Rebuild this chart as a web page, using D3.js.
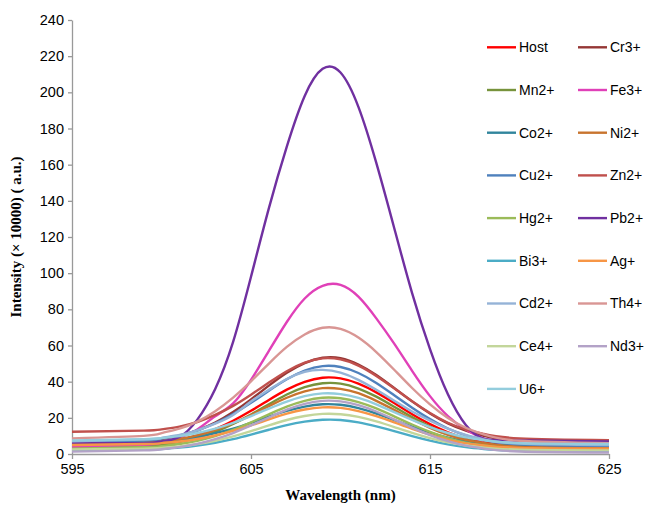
<!DOCTYPE html>
<html>
<head>
<meta charset="utf-8">
<script src="https://cdn.jsdelivr.net/npm/d3@7"></script>
<style>
  body { margin: 0; background: #fff; }
  svg { display: block; }
</style>
</head>
<body>
<svg id="chart" width="646" height="505"></svg>
<script>
// wavelength samples (nm)
const wavelengths = [595, 599, 600, 601, 602, 603, 604, 605, 606, 607, 608, 609, 610, 611, 612, 613, 614, 615, 616, 617, 618, 620, 625];

// intensities (x 10000 a.u.)
const host = [4.5, 5.4, 6.3, 7.8, 10.3, 13.8, 18.4, 23.9, 29.9, 35.6, 39.9, 42.2, 41.8, 38.9, 34.1, 28.2, 22.0, 16.5, 12.0, 8.7, 6.5, 4.3, 3.5];
const cr3 = [6.0, 7.1, 8.2, 10.1, 13.1, 17.4, 23.2, 30.2, 37.8, 44.9, 50.3, 53.2, 53.0, 49.5, 43.7, 36.5, 29.1, 22.4, 16.9, 12.9, 10.1, 7.5, 6.5];
const mn2 = [3.5, 4.4, 5.2, 6.6, 8.9, 12.2, 16.6, 21.8, 27.5, 32.9, 37.0, 39.1, 38.9, 36.2, 31.7, 26.1, 20.4, 15.2, 11.0, 7.9, 5.8, 3.7, 3.0];
const fe3 = [4.0, 5.1, 6.4, 9.0, 13.6, 20.9, 28.0, 41.0, 57.0, 73.0, 86.0, 93.0, 93.5, 87.0, 75.0, 61.0, 46.0, 32.0, 21.0, 13.5, 8.5, 4.9, 4.0];
const co2 = [6.0, 6.5, 7.1, 8.0, 9.4, 11.5, 14.0, 17.2, 20.6, 23.8, 26.2, 27.5, 27.2, 25.4, 22.4, 18.8, 15.1, 11.8, 9.0, 7.0, 5.7, 4.5, 4.0];
const ni2 = [5.5, 6.3, 7.0, 8.3, 10.3, 13.2, 17.0, 21.5, 26.5, 31.1, 34.6, 36.4, 36.0, 33.6, 29.4, 24.4, 19.2, 14.5, 10.6, 7.8, 6.0, 4.1, 3.5];
const cu2 = [6.5, 7.5, 8.5, 10.3, 13.0, 17.0, 22.1, 28.3, 35.0, 41.3, 46.1, 48.6, 48.1, 44.8, 39.3, 32.5, 25.6, 19.3, 14.1, 10.3, 7.8, 5.4, 4.5];
const zn2 = [12.3, 12.9, 13.6, 15.1, 17.7, 21.6, 26.6, 32.8, 39.5, 45.8, 50.5, 52.9, 52.3, 48.9, 43.2, 36.3, 29.2, 22.7, 17.3, 13.6, 11.1, 8.6, 7.7];
const hg2 = [3.0, 3.7, 4.3, 5.5, 7.3, 9.9, 13.3, 17.5, 21.9, 26.2, 29.4, 31.1, 30.8, 28.7, 25.2, 20.8, 16.3, 12.2, 8.8, 6.3, 4.7, 3.1, 2.5];
const pb2 = [6.0, 6.0, 7.0, 9.5, 19.0, 36.0, 62.0, 98.0, 136.0, 170.0, 198.0, 213.0, 211.0, 192.0, 161.0, 125.0, 89.0, 58.0, 33.0, 16.0, 8.5, 7.5, 7.0];
const bi3 = [2.0, 2.4, 2.8, 3.5, 4.6, 6.2, 8.2, 10.7, 13.4, 16.0, 17.9, 18.9, 18.8, 17.5, 15.3, 12.7, 9.9, 7.4, 5.3, 3.8, 2.8, 1.9, 1.5];
const ag = [5.0, 5.5, 6.0, 6.9, 8.3, 10.3, 12.8, 15.8, 19.2, 22.3, 24.6, 25.8, 25.5, 23.7, 20.9, 17.5, 13.9, 10.7, 7.8, 5.9, 4.7, 3.4, 3.0];
const cd2 = [7.0, 8.0, 8.9, 10.5, 13.1, 16.8, 21.6, 29.0, 35.5, 41.5, 45.5, 46.5, 45.0, 41.0, 35.5, 29.5, 23.5, 18.5, 14.0, 10.5, 8.1, 5.8, 5.0];
const th4 = [8.6, 10.0, 11.5, 14.0, 17.9, 23.7, 31.2, 40.2, 50.0, 59.2, 66.1, 69.8, 69.2, 64.4, 56.4, 46.6, 36.5, 27.4, 19.9, 14.5, 10.8, 7.3, 6.0];
const ce4 = [2.5, 3.0, 3.4, 4.2, 5.5, 7.3, 9.7, 12.6, 15.8, 18.8, 21.0, 22.2, 22.0, 20.5, 18.0, 14.9, 11.7, 8.8, 6.4, 4.7, 3.5, 2.4, 2.0];
const nd3 = [1.3, 2.0, 2.6, 3.8, 5.6, 8.2, 11.6, 15.8, 20.2, 24.5, 27.7, 29.4, 29.1, 27.0, 23.5, 19.1, 14.6, 10.5, 7.1, 4.6, 3.0, 1.4, 0.8];
const u6 = [7.5, 8.2, 8.8, 9.9, 11.6, 14.0, 17.2, 21.0, 25.1, 29.0, 32.0, 33.5, 33.1, 31.0, 27.5, 23.2, 18.9, 14.9, 11.6, 9.2, 7.6, 6.0, 5.5];

const seriesNames = ["Host", "Cr3+", "Mn2+", "Fe3+", "Co2+", "Ni2+", "Cu2+", "Zn2+", "Hg2+", "Pb2+", "Bi3+", "Ag+", "Cd2+", "Th4+", "Ce4+", "Nd3+", "U6+"];
const seriesValues = [host, cr3, mn2, fe3, co2, ni2, cu2, zn2, hg2, pb2, bi3, ag, cd2, th4, ce4, nd3, u6];
const seriesColors = ["#ff0000", "#953735", "#77933c", "#e040b8", "#31859c", "#c8742e", "#4f81bd", "#c0504d", "#9bbb59", "#7030a0", "#4bacc6", "#f79646", "#95b3d7", "#d99694", "#c3d69b", "#b3a2c7", "#93cddd"];

const yTicks = d3.range(0, 241, 20);
const xTicks = [595, 605, 615, 625];

const svg = d3.select("#chart");
const margin = { left: 72, right: 37, top: 20, bottom: 51 };
const W = 646, H = 505;

const x = d3.scaleLinear().domain([595, 625]).range([margin.left, W - margin.right]);
const y = d3.scaleLinear().domain([0, 240]).range([H - margin.bottom, margin.top]);

const series = seriesNames.map((name, i) => ({
	name: name,
	color: seriesColors[i],
	points: wavelengths.map((w, j) => ({ w: w, v: seriesValues[i][j] }))
}));

// axes
const yAxis = svg.append("g")
	.attr("transform", "translate(" + margin.left + ",0)")
	.call(d3.axisLeft(y).tickValues(yTicks).tickSize(4).tickSizeOuter(0).tickPadding(4));

const xAxis = svg.append("g")
	.attr("transform", "translate(0," + (H - margin.bottom) + ")")
	.call(d3.axisBottom(x).tickValues(xTicks).tickSize(5).tickSizeOuter(0).tickPadding(5));

[yAxis, xAxis].forEach(function (g) {
	g.select(".domain").attr("stroke", "#999").attr("stroke-width", 1.3);
	g.selectAll(".tick line").attr("stroke", "#999").attr("stroke-width", 1.3);
	g.selectAll(".tick text")
		.attr("fill", "#000")
		.style("font-family", "'Liberation Sans', Arial, sans-serif")
		.style("font-size", "14.5px");
});

// spectra
const line = d3.line()
	.x(d => x(d.w))
	.y(d => y(d.v))
	.curve(d3.curveNatural);

svg.append("g").attr("class", "lines")
	.selectAll("path")
	.data(series)
	.join("path")
	.attr("d", d => line(d.points))
	.attr("fill", "none")
	.attr("stroke", d => d.color)
	.attr("stroke-width", 2.4)
	.attr("stroke-linejoin", "round");

// axis titles
svg.append("text")
	.attr("transform", "translate(21," + ((margin.top + H - margin.bottom) / 2) + ") rotate(-90)")
	.attr("text-anchor", "middle")
	.style("font-family", "'Liberation Serif', 'Times New Roman', serif")
	.style("font-weight", "bold")
	.style("font-size", "15px")
	.text("Intensity (× 10000) ( a.u.)");

svg.append("text")
	.attr("x", (margin.left + W - margin.right) / 2)
	.attr("y", 500)
	.attr("text-anchor", "middle")
	.style("font-family", "'Liberation Serif', 'Times New Roman', serif")
	.style("font-weight", "bold")
	.style("font-size", "15px")
	.text("Wavelength (nm)");

// legend, two columns
const legend = svg.append("g").attr("class", "legend");
const item = legend.selectAll("g")
	.data(series)
	.join("g")
	.attr("transform", (d, i) => "translate(" + (i % 2 === 0 ? 487 : 578) + "," + (47.3 + Math.floor(i / 2) * 42.7) + ")");

item.append("line")
	.attr("x1", 0).attr("x2", 29)
	.attr("stroke", d => d.color)
	.attr("stroke-width", 2.4);

item.append("text")
	.attr("x", 32)
	.attr("dy", "0.35em")
	.style("font-family", "'Liberation Sans', Arial, sans-serif")
	.style("font-size", "14px")
	.text(d => d.name);
</script>
</body>
</html>
